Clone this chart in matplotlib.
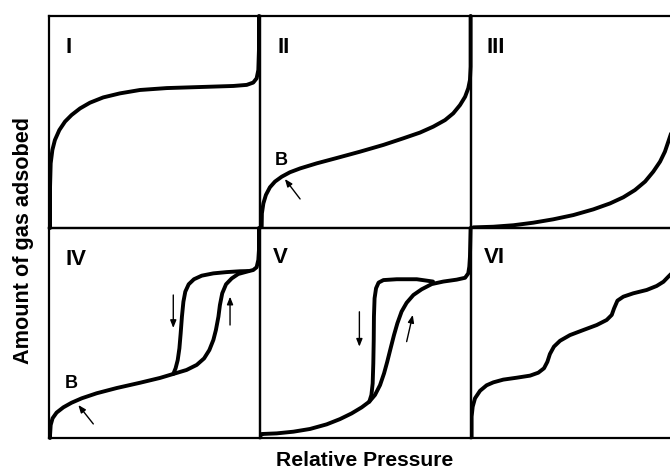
import matplotlib
matplotlib.use("Agg")
import matplotlib.pyplot as plt

plt.rcParams['font.family'] = ['Liberation Sans', 'DejaVu Sans']

# Isotherm shapes: relative pressure (x) vs. amount adsorbed (y), both normalised 0..1
type1_x = [0.005, 0.005, 0.008, 0.016, 0.028, 0.049, 0.076, 0.107, 0.147, 0.194, 0.257, 0.336, 0.431, 0.558, 0.716, 0.874, 0.937, 0.968, 0.984, 0.992, 0.995, 0.995]
type1_y = [0.0, 0.195, 0.305, 0.368, 0.415, 0.462, 0.502, 0.533, 0.564, 0.591, 0.616, 0.635, 0.651, 0.660, 0.665, 0.670, 0.675, 0.686, 0.706, 0.745, 0.84, 1.0]

type2_x = [0.008, 0.009, 0.016, 0.028, 0.047, 0.071, 0.103, 0.142, 0.190, 0.269, 0.363, 0.474, 0.585, 0.679, 0.758, 0.821, 0.877, 0.916, 0.948, 0.972, 0.987, 0.995, 0.998, 0.998]
type2_y = [0.006, 0.069, 0.116, 0.156, 0.192, 0.219, 0.242, 0.263, 0.281, 0.305, 0.330, 0.360, 0.392, 0.423, 0.450, 0.478, 0.509, 0.541, 0.580, 0.619, 0.659, 0.698, 0.761, 1.0]

type3_x = [0.011, 0.106, 0.201, 0.295, 0.390, 0.485, 0.580, 0.659, 0.722, 0.777, 0.825, 0.864, 0.896, 0.919, 0.935, 0.959, 0.975, 0.987]
type3_y = [0.003, 0.006, 0.013, 0.025, 0.041, 0.061, 0.088, 0.116, 0.145, 0.179, 0.219, 0.266, 0.313, 0.360, 0.407, 0.478, 0.604, 0.761]

type4_ads_x = [0.005, 0.005, 0.008, 0.017, 0.036, 0.068, 0.107, 0.155, 0.226, 0.321, 0.431, 0.526, 0.589, 0.652, 0.700, 0.735, 0.760, 0.779, 0.791, 0.803, 0.810, 0.821, 0.839, 0.866, 0.897, 0.937, 0.968, 0.984, 0.992, 0.995, 0.995]
type4_ads_y = [0.0, 0.014, 0.062, 0.094, 0.121, 0.146, 0.168, 0.189, 0.213, 0.238, 0.263, 0.286, 0.305, 0.324, 0.348, 0.379, 0.419, 0.467, 0.514, 0.578, 0.633, 0.689, 0.732, 0.760, 0.781, 0.792, 0.800, 0.813, 0.848, 0.895, 1.0]
type4_des_x = [0.589, 0.600, 0.610, 0.618, 0.624, 0.630, 0.637, 0.646, 0.662, 0.687, 0.724, 0.779, 0.842, 0.905, 0.945]
type4_des_y = [0.305, 0.332, 0.371, 0.427, 0.498, 0.578, 0.649, 0.697, 0.732, 0.756, 0.773, 0.784, 0.790, 0.794, 0.795]

type5_ads_x = [0.004, 0.008, 0.079, 0.158, 0.237, 0.316, 0.379, 0.434, 0.482, 0.518, 0.545, 0.569, 0.588, 0.603, 0.619, 0.635, 0.651, 0.671, 0.695, 0.727, 0.766, 0.814, 0.869, 0.932, 0.972, 0.987, 0.992, 0.995, 0.998]
type5_ads_y = [0.012, 0.019, 0.022, 0.030, 0.043, 0.065, 0.090, 0.117, 0.146, 0.173, 0.205, 0.252, 0.308, 0.363, 0.427, 0.490, 0.546, 0.602, 0.644, 0.681, 0.708, 0.733, 0.745, 0.754, 0.763, 0.784, 0.816, 0.863, 1.0]
type5_des_x = [0.518, 0.528, 0.534, 0.537, 0.539, 0.540, 0.543, 0.550, 0.562, 0.585, 0.648, 0.743, 0.820]
type5_des_y = [0.173, 0.205, 0.260, 0.356, 0.467, 0.578, 0.665, 0.713, 0.740, 0.752, 0.756, 0.756, 0.745]

type6_x = [0.003, 0.003, 0.008, 0.019, 0.043, 0.074, 0.106, 0.153, 0.216, 0.280, 0.319, 0.346, 0.362, 0.374, 0.393, 0.422, 0.469, 0.532, 0.596, 0.643, 0.667, 0.678, 0.694, 0.722, 0.769, 0.833, 0.880, 0.912, 0.935, 0.959]
type6_y = [0.0, 0.102, 0.149, 0.189, 0.225, 0.251, 0.265, 0.278, 0.287, 0.297, 0.311, 0.332, 0.363, 0.400, 0.435, 0.463, 0.490, 0.514, 0.538, 0.562, 0.586, 0.617, 0.654, 0.673, 0.689, 0.705, 0.724, 0.744, 0.768, 0.792]

panel_labels = ["I", "II", "III", "IV", "V", "VI"]
knee_label = "B"
xlabel = "Relative Pressure"
ylabel = "Amount of gas adsobed"

W, H = 670, 468
fig = plt.figure(figsize=(W / 100, H / 100), dpi=100)
fig.patch.set_facecolor("white")

col_left = [49, 260, 471]
row_top = [16, 228]
row_bottom = [228, 438]
panel_w = 211


def make_axes(col, row):
    left = col_left[col] / W
    bottom = 1 - row_bottom[row] / H
    height = (row_bottom[row] - row_top[row]) / H
    ax = fig.add_axes([left, bottom, panel_w / W, height])
    ax.set_xlim(0, 1)
    ax.set_ylim(0, 1)
    ax.set_xticks([])
    ax.set_yticks([])
    for s in ax.spines.values():
        s.set_linewidth(1.6)
        s.set_color("black")
    ax.patch.set_alpha(0)
    return ax


curve_kw = dict(color="black", lw=2.8, solid_capstyle="round", solid_joinstyle="round", clip_on=False)
clipped_kw = dict(color="black", lw=2.8, solid_capstyle="round", solid_joinstyle="round")
arrow_kw = dict(arrowstyle="-|>,head_length=0.45,head_width=0.18", color="black", lw=1.0, shrinkA=0, shrinkB=0)
numeral_kw = dict(fontsize=16, fontweight="bold", ha="left", va="baseline")
knee_kw = dict(fontsize=13, fontweight="bold", ha="left", va="baseline")

axes = [make_axes(c, r) for r in range(2) for c in range(3)]

ax = axes[0]
ax.plot(type1_x, type1_y, **curve_kw)

ax = axes[1]
ax.plot(type2_x, type2_y, **curve_kw)
ax.text(0.071, 0.297, knee_label, **knee_kw)
ax.annotate("", xy=(0.118, 0.231), xytext=(0.19, 0.137), arrowprops=arrow_kw)

ax = axes[2]
ax.plot(type3_x, type3_y, **clipped_kw)

ax = axes[3]
ax.plot(type4_ads_x, type4_ads_y, **curve_kw)
ax.plot(type4_des_x, type4_des_y, **curve_kw)
ax.text(0.076, 0.238, knee_label, **knee_kw)
ax.annotate("", xy=(0.139, 0.157), xytext=(0.21, 0.067), arrowprops=arrow_kw)
ax.annotate("", xy=(0.589, 0.524), xytext=(0.589, 0.681), arrowprops=arrow_kw)
ax.annotate("", xy=(0.858, 0.673), xytext=(0.858, 0.538), arrowprops=arrow_kw)

ax = axes[4]
ax.plot(type5_ads_x, type5_ads_y, **curve_kw)
ax.plot(type5_des_x, type5_des_y, **curve_kw)
ax.annotate("", xy=(0.471, 0.435), xytext=(0.471, 0.601), arrowprops=arrow_kw)
ax.annotate("", xy=(0.724, 0.586), xytext=(0.695, 0.459), arrowprops=arrow_kw)

ax = axes[5]
ax.plot(type6_x, type6_y, **clipped_kw)

label_pos = [(0.078, 0.825), (0.082, 0.825), (0.073, 0.825), (0.078, 0.824), (0.059, 0.833), (0.059, 0.833)]
for ax, lab, (x, y) in zip(axes, panel_labels, label_pos):
    ax.text(x, y, lab, **numeral_kw)

fig.text(364.5 / W, 1 - 460 / H, xlabel, fontsize=15.2, fontweight="bold", ha="center", va="center")
fig.text(23.5 / W, 1 - 241 / H, ylabel, fontsize=15.6, fontweight="bold", ha="center", va="center", rotation=90)

fig.savefig("out.png", dpi=100, facecolor="white")
